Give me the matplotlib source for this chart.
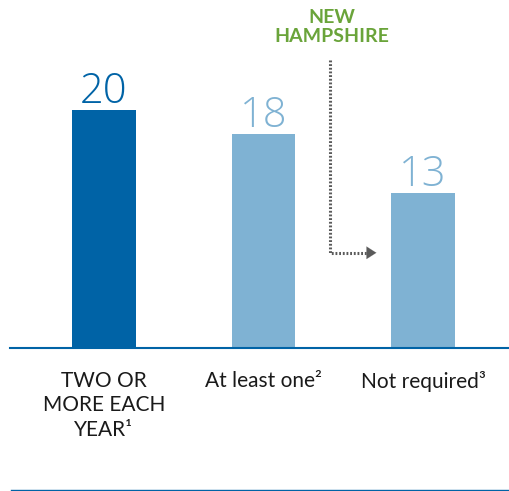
import matplotlib.pyplot as plt
from matplotlib.lines import Line2D

plt.rcParams['font.family'] = ['Lato', 'DejaVu Sans']

categories = ["TWO OR\nMORE EACH\nYEAR\u00b9", "At least one\u00b2", "Not required\u00b3"]
values = [20, 18, 13]
colors = ["#0063a6", "#7fb2d3", "#7fb2d3"]
callout = "NEW\nHAMPSHIRE"

W, H = 509, 491
fig = plt.figure(figsize=(W / 100, H / 100), dpi=100)
ax = fig.add_axes([10 / W, 143 / H, 499 / W, 348 / H])

x = list(range(len(values)))
ax.bar(x, values, width=0.40, color=colors, zorder=2)
ax.set_xlim(-0.589, 2.539)
ax.set_ylim(0, 29.24)

for xi, v, c in zip(x, values, colors):
    ax.text(xi, v + 0.6, str(v), ha="center", va="baseline", fontsize=30,
            family=["Open Sans", "DejaVu Sans"], fontweight=300, color=c)

for xi, lab in zip(x, categories):
    ax.text(xi, -1.9, lab, ha="center", va="top", fontsize=15, color="#1a1a1a",
            linespacing=1.3)

for s in ["top", "right", "left"]:
    ax.spines[s].set_visible(False)
ax.spines["bottom"].set_color("#0063a6")
ax.spines["bottom"].set_linewidth(1.5)
ax.set_xticks([])
ax.set_yticks([])

# callout for New Hampshire
ax.text(1.43, 28.5, callout, ha="center", va="top", fontsize=14, fontweight="bold",
        color="#6aa43a", linespacing=1.15)
ax.plot([1.417, 1.417, 1.66], [24.2, 8.0, 8.0], color="#5a5a5a", lw=2.2,
        linestyle=(0, (0.6, 0.6)), zorder=3)
ax.annotate("", xy=(1.725, 8.0), xytext=(1.64, 8.0),
            arrowprops=dict(arrowstyle="-|>,head_length=0.7,head_width=0.45",
                            color="#5a5a5a", lw=0.1))

fig.add_artist(Line2D([11 / W, 1], [1.2 / H, 1.2 / H], color="#0063a6", lw=1.0))

fig.savefig("out.png", dpi=100)
